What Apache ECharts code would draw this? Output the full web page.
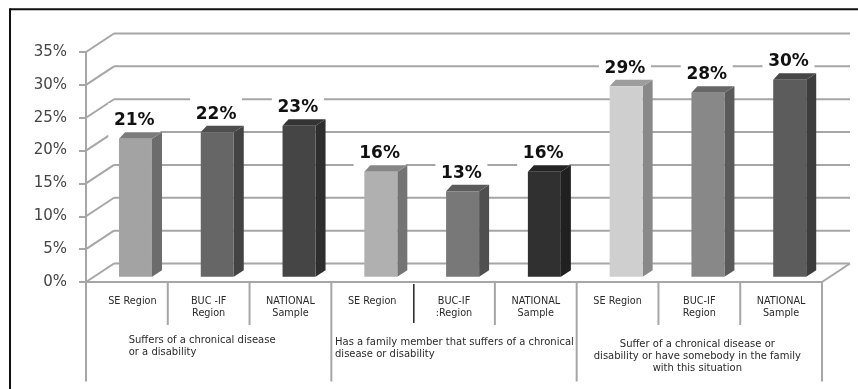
<!DOCTYPE html>
<html>
<head>
<meta charset="utf-8">
<style>html,body{margin:0;padding:0;background:#fff}#chart{width:858px;height:389px}</style>
<script src="https://cdn.jsdelivr.net/npm/echarts@6/dist/echarts.min.js"></script>
</head>
<body>
<div id="chart"></div>
<script>
// Share of respondents affected by chronical disease, by region and sample.
const categories = [
  'SE Region', 'BUC -IF\nRegion', 'NATIONAL\nSample',
  'SE Region', 'BUC-IF\n:Region', 'NATIONAL\nSample',
  'SE Region', 'BUC-IF\nRegion', 'NATIONAL\nSample'
];
const shares = [21, 22, 23, 16, 13, 16, 29, 28, 30];
const barFills = ['#a3a3a3', '#666666', '#454545', '#b0b0b0', '#787878', '#303030', '#cfcfcf', '#888888', '#5c5c5c'];
const yTicks = [0, 5, 10, 15, 20, 25, 30, 35];
const groupCaptions = [
  'Suffers of a chronical disease\nor a disability',
  'Has a family member that suffers of a chronical\ndisease or disability',
  'Suffer of a chronical disease or\ndisability or have somebody in the family\nwith this situation'
];

// Oblique projection of the box: how far the back wall sits from the front plane.
const WALL_DX = 28, WALL_DY = -18.5;
const BAR_DX = 10, BAR_DY = -6.5;
const BAR_SHIFT = 8.6, BAR_LIFT = -5.2, BAR_W = 33;
const AXIS_GREY = '#a6a6a6';
const FONT = '"DejaVu Sans", sans-serif';

function shade(hex, k) {
  const n = parseInt(hex.slice(1), 16);
  const c = s => Math.round(((n >> s) & 255) * k);
  return `rgb(${c(16)},${c(8)},${c(0)})`;
}

const lineStyle = { stroke: AXIS_GREY, lineWidth: 2, fill: null };
const seg = (x1, y1, x2, y2, style) => ({
  type: 'line', shape: { x1, y1, x2, y2 }, style: style || lineStyle
});

// Back wall rules, side wall diagonals and floor edge, all keyed on the value scale.
function renderWall(params, api) {
  const left = params.coordSys.x, right = left + params.coordSys.width;
  const y = api.coord([0, api.value(0)])[1];
  const kids = [
    seg(left, y, left + WALL_DX, y + WALL_DY),
    seg(left + WALL_DX, y + WALL_DY, right + WALL_DX, y + WALL_DY)
  ];
  if (api.value(0) === 0) {
    kids.push(seg(left, y, right, y), seg(right, y, right + WALL_DX, y + WALL_DY));
  }
  return { type: 'group', children: kids };
}

function renderBar(params, api) {
  const c = api.coord([api.value(0), api.value(1)]);
  const base = api.coord([api.value(0), 0]);
  const x0 = c[0] + BAR_SHIFT - BAR_W / 2, x1 = x0 + BAR_W;
  const top = c[1] + BAR_LIFT, bot = base[1] + BAR_LIFT;
  const fill = barFills[params.dataIndex];
  const poly = (points, color) => ({
    type: 'polygon', shape: { points }, style: { fill: color, stroke: null }
  });
  return {
    type: 'group',
    children: [
      poly([[x1, top], [x1 + BAR_DX, top + BAR_DY], [x1 + BAR_DX, bot + BAR_DY], [x1, bot]], shade(fill, 0.66)),
      poly([[x0, top], [x0 + BAR_DX * 0.6, top + BAR_DY], [x1 + BAR_DX, top + BAR_DY], [x1, top]], shade(fill, 0.76)),
      poly([[x0, top], [x1, top], [x1, bot], [x0, bot]], fill)
    ]
  };
}

// White plate behind each value, which interrupts the wall rules as it passes.
function renderValueLabel(params, api) {
  const c = api.coord([api.value(0), api.value(1)]);
  const cx = c[0] + 7.4, cy = c[1] - 23;
  return {
    type: 'group',
    children: [
      { type: 'rect', shape: { x: cx - 26, y: cy - 18, width: 52, height: 34 }, style: { fill: '#fff' } },
      {
        type: 'text',
        style: {
          x: cx, y: cy, text: api.value(1) + '%', align: 'center', verticalAlign: 'middle',
          fill: '#111', font: 'bold 17px ' + FONT
        }
      }
    ]
  };
}

// Table rulings under the floor: short between categories, long between groups.
function renderRuling(params, api) {
  const i = api.value(0);
  const band = api.size([1, 0])[0];
  const x = api.coord([i, 0])[0] - band / 2;
  const y = api.coord([i, 0])[1];
  const isGroupEdge = i % 3 === 0;
  const kids = [seg(x, y, x, y + (isGroupEdge ? 99.5 : 43))];
  if (i === 4) {
    kids[0] = seg(x + 0.7, y + 2, x + 0.7, y + 41, { stroke: '#222', lineWidth: 1.5 });
  }
  return { type: 'group', children: kids };
}

function renderCaption(params, api) {
  const g = params.dataIndex;
  const mid = api.coord([g * 3 + 1, 0]);
  const style = { fill: '#2a2a2a', font: '10px ' + FONT, lineHeight: 12, verticalAlign: 'top' };
  const layouts = [
    { x: mid[0] - 80, y: mid[1] + 52.5, align: 'left' },
    { x: mid[0] - 119, y: mid[1] + 54.5, align: 'left' },
    { x: mid[0] - 2, y: mid[1] + 56, align: 'center' }
  ];
  return {
    type: 'text',
    style: Object.assign(style, layouts[g], { text: groupCaptions[g] })
  };
}

const chart = echarts.init(document.getElementById('chart'));
chart.setOption({
  animation: false,
  backgroundColor: '#fff',
  grid: { left: 86, right: 36, top: 52, bottom: 107, containLabel: false },
  xAxis: {
    type: 'category',
    // The opening label sits a little right of its band.
    data: categories.map((value, i) => i === 0 ? { value, textStyle: { padding: [0, 0, 0, 11] } } : value),
    axisTick: { show: false },
    axisLine: { show: false },
    axisLabel: {
      interval: 0, margin: 13, color: '#2a2a2a', fontFamily: FONT, fontSize: 9.7, lineHeight: 12,
      verticalAlign: 'top'
    }
  },
  yAxis: {
    type: 'value',
    min: 0, max: 35, interval: 5,
    axisLine: { show: true, lineStyle: { color: AXIS_GREY, width: 2 } },
    axisTick: { show: true, length: 7, lineStyle: { color: AXIS_GREY, width: 2 } },
    splitLine: { show: false },
    axisLabel: { margin: 19, color: '#444', fontFamily: FONT, fontSize: 15, padding: [6, 0, 0, 0], formatter: '{value}%' }
  },
  series: [
    { type: 'custom', z: 1, renderItem: renderWall, data: yTicks.map(v => [v]), encode: { y: 0 }, silent: true, clip: false },
    { type: 'custom', z: 1, renderItem: renderRuling, data: [0, 1, 2, 3, 4, 5, 6, 7, 8, 9].map(i => [i]), encode: { x: 0 }, silent: true, clip: false },
    { type: 'custom', z: 2, renderItem: renderCaption, data: groupCaptions.map((t, i) => [i]), silent: true, clip: false },
    { type: 'custom', z: 3, renderItem: renderValueLabel, data: shares.map((v, i) => [i, v]), encode: { x: 0, y: 1 }, silent: true, clip: false },
    { type: 'custom', z: 4, renderItem: renderBar, data: shares.map((v, i) => [i, v]), encode: { x: 0, y: 1 }, silent: true, clip: false }
  ],
  graphic: [
    // Outer picture frame
    { type: 'line', shape: { x1: 10, y1: 9.3, x2: 858, y2: 9.3 }, style: { stroke: '#111', lineWidth: 2 }, z: 10 },
    { type: 'line', shape: { x1: 10, y1: 8.3, x2: 10, y2: 389 }, style: { stroke: '#111', lineWidth: 2 }, z: 10 }
  ]
});
</script>
</body>
</html>
